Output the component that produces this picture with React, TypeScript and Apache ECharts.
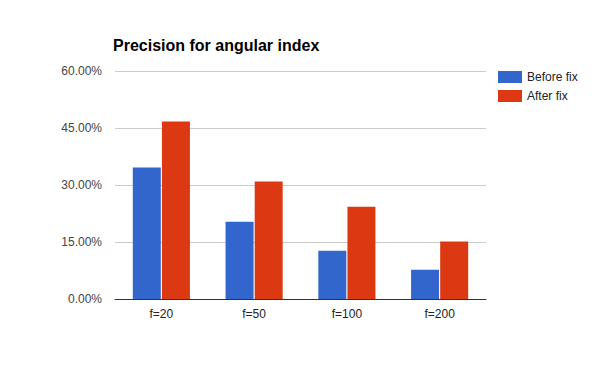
import React, { useEffect, useRef } from "react";
import * as echarts from "echarts";

const categories = ["f=20", "f=50", "f=100", "f=200"];
const beforeFix = [34.6, 20.3, 12.7, 7.7];
const afterFix = [46.7, 30.9, 24.3, 15.1];
const seriesNames = ["Before fix", "After fix"];
const yTicks = { min: 0, max: 60, interval: 15 };

export default function App() {
  const ref = useRef<HTMLDivElement>(null);
  useEffect(() => {
    if (!ref.current) return;
    const chart = echarts.init(ref.current, null, { renderer: "svg" });
    const font = "Arial, 'Liberation Sans', sans-serif";
    chart.setOption({
      animation: false,
      backgroundColor: "#ffffff",
      textStyle: { fontFamily: font },
      title: {
        text: "Precision for angular index",
        left: 113,
        top: 37,
        padding: 0,
        textStyle: { fontFamily: font, fontSize: 16, fontWeight: "bold", color: "#000000" },
      },
      legend: {
        orient: "vertical",
        left: 498,
        top: 71,
        padding: 0,
        itemWidth: 24,
        itemHeight: 12,
        itemGap: 7,
        icon: "rect",
        data: seriesNames,
        textStyle: { fontFamily: font, fontSize: 12, color: "#222222", padding: [0, 0, 0, 0] },
      },
      grid: { left: 115, right: 114, top: 71, bottom: 72, containLabel: false },
      xAxis: {
        type: "category",
        data: categories,
        axisTick: { show: false },
        axisLine: { show: true, lineStyle: { color: "#333333", width: 1 } },
        axisLabel: { fontFamily: font, fontSize: 12, color: "#222222", margin: 9 },
        z: 10,
      },
      yAxis: {
        type: "value",
        min: yTicks.min,
        max: yTicks.max,
        interval: yTicks.interval,
        axisLine: { show: false },
        axisTick: { show: false },
        splitLine: { lineStyle: { color: "#cccccc", width: 1 } },
        axisLabel: {
          fontFamily: font,
          fontSize: 12,
          color: "#444444",
          margin: 13,
          formatter: (v: number) => v.toFixed(2) + "%",
        },
      },
      series: [
        {
          name: seriesNames[0],
          type: "bar",
          data: beforeFix,
          barWidth: 28,
          barGap: "4%",
          itemStyle: { color: "#3366cc" },
        },
        {
          name: seriesNames[1],
          type: "bar",
          data: afterFix,
          barWidth: 28,
          barGap: "4%",
          itemStyle: { color: "#dc3912" },
        },
      ],
    });
    return () => chart.dispose();
  }, []);
  return <div ref={ref} style={{ width: 600, height: 371, position: "absolute", left: 0, top: 0 }} />;
}
